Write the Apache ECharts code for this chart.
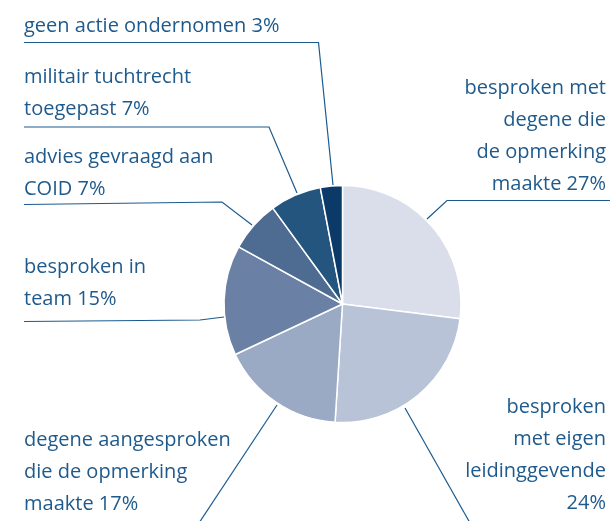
<!DOCTYPE html>
<html>
<head>
<meta charset="utf-8">
<script src="https://cdn.jsdelivr.net/npm/echarts@6/dist/echarts.min.js"></script>
<style>
  html, body { margin: 0; padding: 0; background: #fff; }
  #pie { width: 610px; height: 521px; }
</style>
</head>
<body>
<div id="pie"></div>
<script>
// categories (line breaks as in the figure), share in %
var categories = [
    'besproken met\ndegene die\nde opmerking\nmaakte',
    'besproken\nmet eigen\nleidinggevende\n',
    'degene aangesproken\ndie de opmerking\nmaakte',
    'besproken in\nteam',
    'advies gevraagd aan\nCOID',
    'militair tuchtrecht\ntoegepast',
    'geen actie ondernomen'
];
var values = [27, 24, 17, 15, 7, 7, 3];
var colors = ['#dadeea', '#b8c3d7', '#9aaac4', '#6a80a4', '#4e6b92', '#23557f', '#0b3a68'];

// where each label sits and how its leader line runs (px)
var labelSpots = [
    { x: 606, y: 136, align: 'right', line: [[427, 219], [447, 200.5], [612, 200.5]] },
    { x: 606, y: 455, align: 'right', line: [[405, 408], [470, 523]] },
    { x: 24, y: 472, align: 'left', line: [[277, 405], [199, 523]] },
    { x: 24, y: 283, align: 'left', line: [[224, 317], [200, 320], [24, 321.5]] },
    { x: 24, y: 173, align: 'left', line: [[252, 225], [222, 202], [24, 204.5]] },
    { x: 24, y: 93, align: 'left', line: [[297, 193], [269, 127], [24, 127]] },
    { x: 24, y: 26, align: 'left', line: [[333, 185], [318.5, 42.5], [24, 42.5]] }
];

var myChart = echarts.init(document.getElementById('pie'));

var data = [];
for (var i = 0; i < values.length; i++) {
    data.push({ name: categories[i], value: values[i], itemStyle: { color: colors[i] } });
}

var option = {
    animation: false,
    series: [
        {
            type: 'pie',
            center: [342.5, 304],
            radius: 118.5,
            startAngle: 90,
            clockwise: true,
            avoidLabelOverlap: false,
            itemStyle: { borderColor: '#fff', borderWidth: 1.5 },
            label: {
                show: true,
                position: 'outside',
                fontFamily: 'Open Sans',
                fontSize: 20,
                lineHeight: 32,
                color: '#1f5a8c',
                formatter: function (p) {
                    var n = p.name;
                    return (n.charAt(n.length - 1) === '\n' ? n : n + ' ') + p.value + '%';
                }
            },
            labelLine: {
                show: true,
                smooth: false,
                lineStyle: { color: '#1b5a8f', width: 1.2 }
            },
            labelLayout: function (params) {
                var s = labelSpots[params.dataIndex];
                return {
                    x: s.x,
                    y: s.y,
                    align: s.align,
                    verticalAlign: 'middle',
                    hideOverlap: false,
                    labelLinePoints: s.line
                };
            },
            emphasis: { disabled: true },
            data: data
        }
    ]
};

myChart.setOption(option);
</script>
</body>
</html>
